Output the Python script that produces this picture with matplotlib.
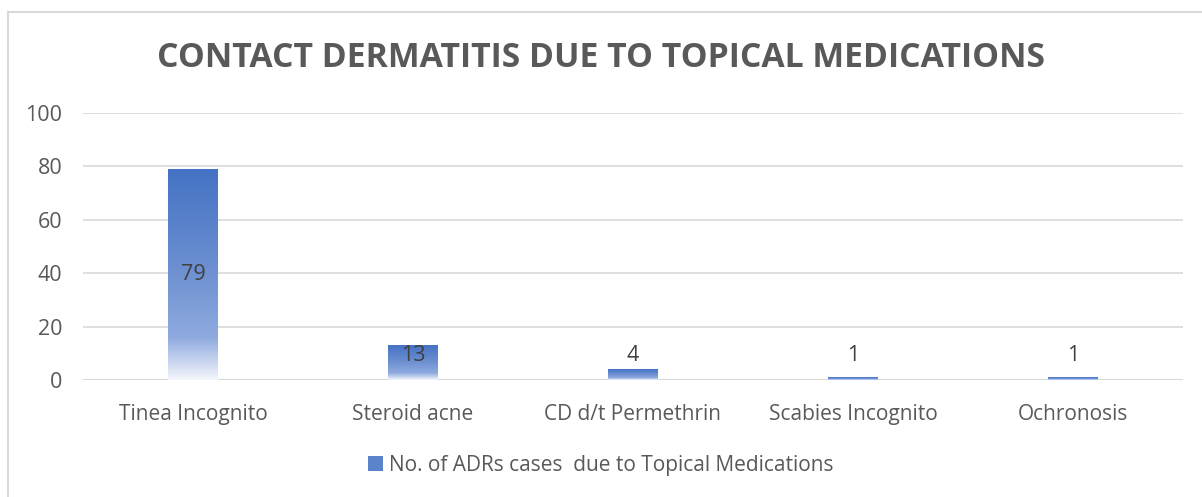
import matplotlib
matplotlib.use("Agg")
import matplotlib.pyplot as plt
import numpy as np
from matplotlib.colors import LinearSegmentedColormap
from matplotlib.lines import Line2D
from matplotlib.patches import Rectangle

categories = ["Tinea Incognito", "Steroid acne", "CD d/t Permethrin", "Scabies Incognito", "Ochronosis"]
values = [79, 13, 4, 1, 1]
series_name = "No. of ADRs cases  due to Topical Medications"
title = "CONTACT DERMATITIS DUE TO TOPICAL MEDICATIONS"
yticks = [0, 20, 40, 60, 80, 100]

plt.rcParams['font.family'] = ['Open Sans', 'DejaVu Sans']
W, H = 1202, 497
fig = plt.figure(figsize=(W / 100, H / 100), dpi=100)
fig.patch.set_facecolor("white")

# outer chart frame (top + left)
fig.add_artist(Line2D([8 / W, 8 / W], [0, 1 - 12 / H], transform=fig.transFigure, color="#D9D9D9", lw=1.5))
fig.add_artist(Line2D([8 / W, 1], [1 - 12 / H, 1 - 12 / H], transform=fig.transFigure, color="#D9D9D9", lw=1.5))

left, right, bottom, top = 83, 1183, 380, 113
ax = fig.add_axes([left / W, (H - bottom) / H, (right - left) / W, (bottom - top) / H])
x = np.arange(len(categories))
for s in ax.spines.values():
    s.set_visible(False)
ax.set_yticks(yticks)
ax.yaxis.grid(True, color="#D9D9D9", lw=1.2)
ax.set_axisbelow(True)
ax.tick_params(axis="both", length=0, colors="#595959")
ax.tick_params(axis="y", pad=15, labelsize=15.5)
ax.tick_params(axis="x", pad=17, labelsize=15)
ax.set_xticks(x)
ax.set_xticklabels(categories)
ax.axhline(0, color="#D9D9D9", lw=1.5, zorder=1)

cmap = LinearSegmentedColormap.from_list(
    "g", [(0.0, "#F4F6FB"), (0.2, "#8FAADF"), (0.55, "#6A8ED0"), (1.0, "#4472C4")])
grad = np.linspace(0, 1, 256).reshape(-1, 1)
bw = 0.227
bars = ax.bar(x, values, width=bw, color="none", zorder=2, label=series_name)
for b, v in zip(bars, values):
    x0 = b.get_x()
    im = ax.imshow(grad, cmap=cmap, origin="lower", aspect="auto",
                   extent=[x0, x0 + bw, 0, v], zorder=2)
    im.set_clip_path(b)
ax.set_xlim(-0.5, len(categories) - 0.5)
ax.set_ylim(0, 100)

for xi, v in zip(x, values):
    ypos = max(v / 2, 9)
    ax.text(xi, ypos, str(v), ha="center", va="center", fontsize=15.5, color="#404040", zorder=3)

fig.text(0.5, 1 - 58 / H, title, ha="center", va="center", fontsize=24.3, fontweight="bold",
         color="#595959")

handle = Rectangle((0, 0), 1, 1, facecolor="#5B83CB", edgecolor="none")
fig.legend([handle], [series_name], loc="center", bbox_to_anchor=(0.5, 1 - 465 / H),
           frameon=False, fontsize=15, labelcolor="#595959", handlelength=0.7,
           handleheight=0.7, handletextpad=0.3)

fig.savefig("out.png", dpi=100, facecolor="white")
